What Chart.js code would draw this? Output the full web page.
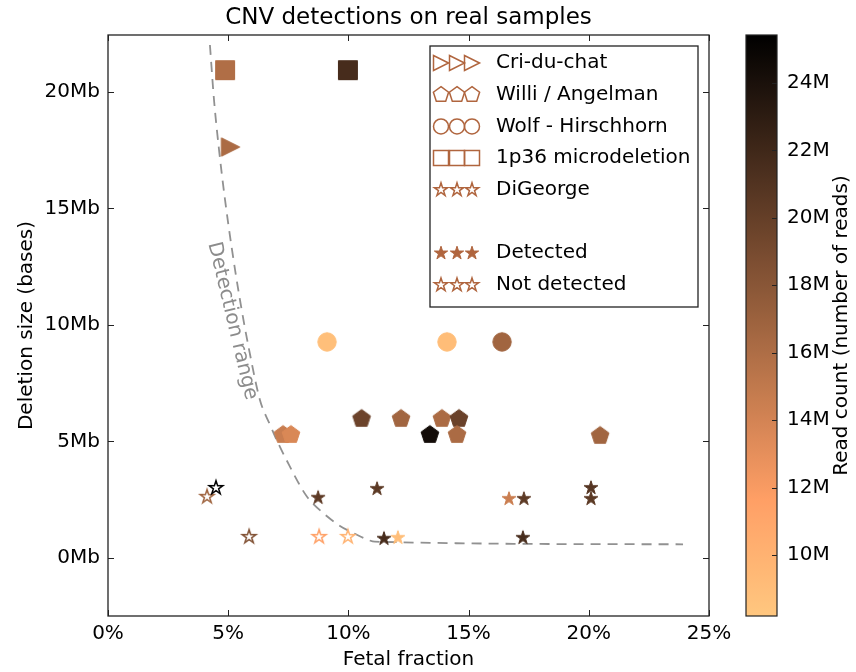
<!DOCTYPE html>
<html>
<head>
<meta charset="utf-8">
<script src="https://cdn.jsdelivr.net/npm/chart.js@4.4.0/dist/chart.umd.min.js"></script>
<style>
html,body{margin:0;padding:0;background:#fff;}
#wrap{width:856px;height:672px;position:relative;}
</style>
</head>
<body>
<div id="wrap"><canvas id="c" width="856" height="672"></canvas></div>
<script>
// ---------------- DATA ----------------
// fetal fraction (%), deletion size (Mb), read count (millions), detected (1/0)
const criFF     = [5.1];
const criSize   = [17.64];
const criReads  = [16.2];
const criDet    = [1];

const willFF    = [7.28, 7.61, 10.55, 12.19, 13.89, 14.6, 13.39, 14.52, 20.47];
const willSize  = [5.28, 5.28, 5.97, 5.97, 5.97, 5.97, 5.28, 5.28, 5.24];
const willReads = [14.6, 13.7, 19.6, 16.7, 16.2, 19.7, 24.4, 16.2, 16.7];
const willDet   = [1, 1, 1, 1, 1, 1, 1, 1, 1];

const wolfFF    = [9.11, 14.1, 16.39];
const wolfSize  = [9.27, 9.27, 9.27];
const wolfReads = [8.9, 9.1, 16.7];
const wolfDet   = [1, 1, 1];

const p36FF     = [4.87, 9.98];
const p36Size   = [20.94, 20.94];
const p36Reads  = [15.9, 21.6];
const p36Det    = [1, 1];

const digFF     = [4.12, 4.49, 8.74, 11.19, 5.87, 8.78, 9.98, 11.48, 12.06, 16.68, 17.3, 20.09, 20.09, 17.26];
const digSize   = [2.62, 3.0, 2.58, 2.96, 0.9, 0.9, 0.9, 0.82, 0.86, 2.53, 2.53, 3.0, 2.53, 0.86];
const digReads  = [16.8, 25.3, 20.4, 20.5, 18.5, 11.6, 9.9, 21.6, 9.0, 14.5, 20.4, 20.8, 20.5, 21.6];
const digDet    = [0, 0, 1, 1, 0, 0, 0, 1, 1, 1, 1, 1, 1, 1];

// detection range curve
const rangeFF   = [4.24, 4.41, 4.62, 4.87, 5.16, 5.49, 5.87, 6.32, 6.74, 7.11, 7.53, 7.90, 8.28, 8.94, 9.65, 10.27, 10.82, 11.1, 23.92];
const rangeSize = [22.02, 19.66, 17.51, 15.36, 13.22, 11.07, 8.93, 6.78, 5.71, 4.85, 3.99, 3.26, 2.62, 1.93, 1.37, 1.03, 0.77, 0.69, 0.58];

// ticks
const ffTicks   = [0, 5, 10, 15, 20, 25];
const sizeTicks = [0, 5, 10, 15, 20];
const readTicks = [10, 12, 14, 16, 18, 20, 22, 24];

const legendLabels = ['Cri-du-chat', 'Willi / Angelman', 'Wolf - Hirschhorn', '1p36 microdeletion', 'DiGeorge', '', 'Detected', 'Not detected'];

// ---------------- STYLE ----------------
const FONT = "'DejaVu Sans', sans-serif";
const CB_MIN = 8.19, CB_MAX = 25.42;
const LEGEND_BROWN = 'rgb(176,101,62)';

function copperR(m) {
  let v = (m - CB_MIN) / (CB_MAX - CB_MIN);
  v = Math.max(0, Math.min(1, v));
  const t = 1 - v;
  const r = Math.min(1, 1.25 * t) * 255, g = 0.7812 * t * 255, b = 0.4975 * t * 255;
  return 'rgb(' + Math.round(r) + ',' + Math.round(g) + ',' + Math.round(b) + ')';
}

const SIZES = { tri: 9.2, pent: 9.3, circle: 9.2, square: 9.5, star: 7.2 };

function shapePath(ctx, shape, cx, cy, r) {
  ctx.beginPath();
  if (shape === 'circle') {
    ctx.arc(cx, cy, r, 0, Math.PI * 2);
  } else if (shape === 'square') {
    ctx.rect(cx - r, cy - r, 2 * r, 2 * r);
  } else if (shape === 'tri') {
    ctx.moveTo(cx + r, cy); ctx.lineTo(cx - r, cy - r); ctx.lineTo(cx - r, cy + r);
  } else if (shape === 'pent') {
    for (let k = 0; k < 5; k++) {
      const a = -Math.PI / 2 + k * 2 * Math.PI / 5;
      const px = cx + r * Math.cos(a), py = cy + r * Math.sin(a);
      if (k === 0) ctx.moveTo(px, py); else ctx.lineTo(px, py);
    }
  } else if (shape === 'star') {
    for (let k = 0; k < 10; k++) {
      const rr = (k % 2) ? r * 0.381966 : r;
      const a = -Math.PI / 2 + k * Math.PI / 5;
      const px = cx + rr * Math.cos(a), py = cy + rr * Math.sin(a);
      if (k === 0) ctx.moveTo(px, py); else ctx.lineTo(px, py);
    }
  }
  ctx.closePath();
}

function drawShape(ctx, shape, cx, cy, r, color, filled) {
  ctx.save();
  shapePath(ctx, shape, cx, cy, r);
  ctx.lineJoin = 'miter';
  if (filled) {
    ctx.fillStyle = color; ctx.fill();
    ctx.strokeStyle = color; ctx.lineWidth = 1; ctx.stroke();
  } else {
    ctx.strokeStyle = color; ctx.lineWidth = 1.5; ctx.stroke();
  }
  ctx.restore();
}

const markerCache = {};
function markerImage(shape, color, filled) {
  const key = shape + '|' + color + '|' + filled;
  if (markerCache[key]) return markerCache[key];
  const r = SIZES[shape];
  const S = 2 * Math.ceil(r + 3);
  const cv = document.createElement('canvas');
  cv.width = S; cv.height = S;
  drawShape(cv.getContext('2d'), shape, S / 2, S / 2, r, color, filled);
  markerCache[key] = cv;
  return cv;
}

function pts(ff, size, reads, det) {
  return ff.map((x, i) => ({ x: x, y: size[i], reads: reads[i], det: det[i] }));
}

function markerDataset(label, shape, data) {
  return {
    label: label, shape: shape, data: data, order: 1,
    pointRadius: 9, pointHoverRadius: 9,
    pointStyle: (c) => {
      if (!c.raw) return 'circle';
      return markerImage(shape, copperR(c.raw.reads), !!c.raw.det);
    }
  };
}

const datasets = [
  markerDataset('Cri-du-chat', 'tri', pts(criFF, criSize, criReads, criDet)),
  markerDataset('Willi / Angelman', 'pent', pts(willFF, willSize, willReads, willDet)),
  markerDataset('Wolf - Hirschhorn', 'circle', pts(wolfFF, wolfSize, wolfReads, wolfDet)),
  markerDataset('1p36 microdeletion', 'square', pts(p36FF, p36Size, p36Reads, p36Det)),
  markerDataset('DiGeorge', 'star', pts(digFF, digSize, digReads, digDet)),
  {
    label: 'Detection range', order: 5,
    data: rangeFF.map((x, i) => ({ x: x, y: rangeSize[i] })),
    showLine: true, pointRadius: 0, pointHoverRadius: 0,
    borderColor: 'rgb(145,145,145)', borderWidth: 1.8, borderDash: [10, 7],
    cubicInterpolationMode: 'monotone', fill: false
  }
];

// ---------------- PLUGIN ----------------
const decor = {
  id: 'decor',
  beforeDatasetsDraw(chart) {
    const ctx = chart.ctx, xs = chart.scales.x, ys = chart.scales.y;
    ctx.save();
    ctx.translate(xs.getPixelForValue(5.17), ys.getPixelForValue(10.17));
    ctx.rotate(76.5 * Math.PI / 180);
    ctx.font = '20px ' + FONT;
    ctx.fillStyle = 'rgb(140,140,140)';
    ctx.textAlign = 'center'; ctx.textBaseline = 'middle';
    ctx.fillText('Detection range', 0, 0);
    ctx.restore();
  },
  afterDraw(chart) {
    const ctx = chart.ctx, a = chart.chartArea, xs = chart.scales.x, ys = chart.scales.y, cb = chart.scales.cb;
    ctx.save();
    ctx.strokeStyle = '#222'; ctx.lineWidth = 1.3;
    ctx.strokeRect(a.left, a.top, a.right - a.left, a.bottom - a.top);
    ctx.beginPath();
    ffTicks.forEach(v => {
      const x = Math.round(xs.getPixelForValue(v)) + 0.5;
      ctx.moveTo(x, a.bottom); ctx.lineTo(x, a.bottom - 6);
      ctx.moveTo(x, a.top); ctx.lineTo(x, a.top + 6);
    });
    sizeTicks.forEach(v => {
      const y = Math.round(ys.getPixelForValue(v)) + 0.5;
      ctx.moveTo(a.left, y); ctx.lineTo(a.left + 6, y);
      ctx.moveTo(a.right, y); ctx.lineTo(a.right - 6, y);
    });
    ctx.lineWidth = 1; ctx.stroke();

    ctx.fillStyle = '#000';
    ctx.font = '23px ' + FONT;
    ctx.textAlign = 'center'; ctx.textBaseline = 'middle';
    ctx.fillText('CNV detections on real samples', (a.left + a.right) / 2, 18);

    const bx = cb.left + 37, bw = 31;
    const yTop = cb.getPixelForValue(CB_MAX), yBot = cb.getPixelForValue(CB_MIN);
    const grad = ctx.createLinearGradient(0, yBot, 0, yTop);
    for (let i = 0; i <= 40; i++) {
      const f = i / 40;
      grad.addColorStop(f, copperR(CB_MIN + f * (CB_MAX - CB_MIN)));
    }
    ctx.fillStyle = grad;
    ctx.fillRect(bx, yTop, bw, yBot - yTop);
    ctx.strokeStyle = '#222'; ctx.lineWidth = 1.2;
    ctx.strokeRect(bx, yTop, bw, yBot - yTop);
    ctx.beginPath();
    readTicks.forEach(v => {
      const y = Math.round(cb.getPixelForValue(v)) + 0.5;
      ctx.moveTo(bx + bw, y); ctx.lineTo(bx + bw - 5, y);
    });
    ctx.strokeStyle = '#222'; ctx.lineWidth = 1; ctx.stroke();
    ctx.save();
    ctx.translate(842, (yTop + yBot) / 2);
    ctx.rotate(-Math.PI / 2);
    ctx.fillStyle = '#000';
    ctx.font = '20px ' + FONT;
    ctx.textAlign = 'center'; ctx.textBaseline = 'middle';
    ctx.fillText('Read count (number of reads)', 0, 0);
    ctx.restore();

    const lx = a.left + 322, ly = a.top + 11, lw = 268, lh = 261;
    ctx.fillStyle = '#fff';
    ctx.fillRect(lx, ly, lw, lh);
    ctx.strokeStyle = '#222'; ctx.lineWidth = 1.3;
    ctx.strokeRect(lx, ly, lw, lh);
    const shapes = ['tri', 'pent', 'circle', 'square', 'star', null, 'star', 'star'];
    const fills = [false, false, false, false, false, false, true, false];
    const lsz = { tri: 7.5, pent: 8, circle: 7.5, square: 7.5, star: 7 };
    legendLabels.forEach((lab, i) => {
      const cy = ly + 17 + i * 31.7;
      if (shapes[i]) {
        [11, 27, 42].forEach(dx => drawShape(ctx, shapes[i], lx + dx, cy, lsz[shapes[i]], LEGEND_BROWN, fills[i]));
      }
      ctx.fillStyle = '#000';
      ctx.font = '20px ' + FONT;
      ctx.textAlign = 'left'; ctx.textBaseline = 'middle';
      ctx.fillText(lab, lx + 66, cy);
    });
    ctx.restore();
  }
};

function noPad(s) { s.paddingTop = 0; s.paddingBottom = 0; s.paddingLeft = 0; s.paddingRight = 0; }

Chart.defaults.font.family = FONT;
Chart.defaults.font.size = 20;
Chart.defaults.color = '#000';

new Chart(document.getElementById('c'), {
  type: 'scatter',
  data: { datasets: datasets },
  options: {
    responsive: false,
    animation: false,
    events: [],
    devicePixelRatio: 1,
    layout: { padding: { top: 35, left: 0, right: 0, bottom: 0 } },
    plugins: { legend: { display: false }, tooltip: { enabled: false }, title: { display: false } },
    scales: {
      x: {
        type: 'linear', position: 'bottom', min: 0, max: 25,
        afterBuildTicks: (s) => { s.ticks = ffTicks.map(v => ({ value: v })); },
        afterFit: (s) => { s.height = 56; noPad(s); },
        ticks: { padding: 6, maxRotation: 0, callback: (v) => v + '%', font: { size: 20 } },
        grid: { display: false, drawTicks: false },
        border: { display: false },
        title: { display: true, text: 'Fetal fraction', font: { size: 20 }, padding: { top: 0, bottom: 0 } }
      },
      y: {
        type: 'linear', position: 'left', min: -2.5, max: 22.45,
        afterBuildTicks: (s) => { s.ticks = sizeTicks.map(v => ({ value: v })); },
        afterFit: (s) => { s.width = 108; noPad(s); },
        ticks: { padding: 8, callback: (v) => v + 'Mb', font: { size: 20 } },
        grid: { display: false, drawTicks: false },
        border: { display: false },
        title: { display: true, text: 'Deletion size (bases)', font: { size: 20 }, padding: { top: 15, bottom: 0 } }
      },
      cb: {
        type: 'linear', axis: 'y', position: 'right', min: CB_MIN, max: CB_MAX,
        afterBuildTicks: (s) => { s.ticks = readTicks.map(v => ({ value: v })); },
        afterFit: (s) => { s.width = 147; noPad(s); },
        ticks: { padding: 78, callback: (v) => v + 'M', font: { size: 20 } },
        grid: { display: false, drawTicks: false },
        border: { display: false }
      }
    }
  },
  plugins: [decor]
});
</script>
</body>
</html>
